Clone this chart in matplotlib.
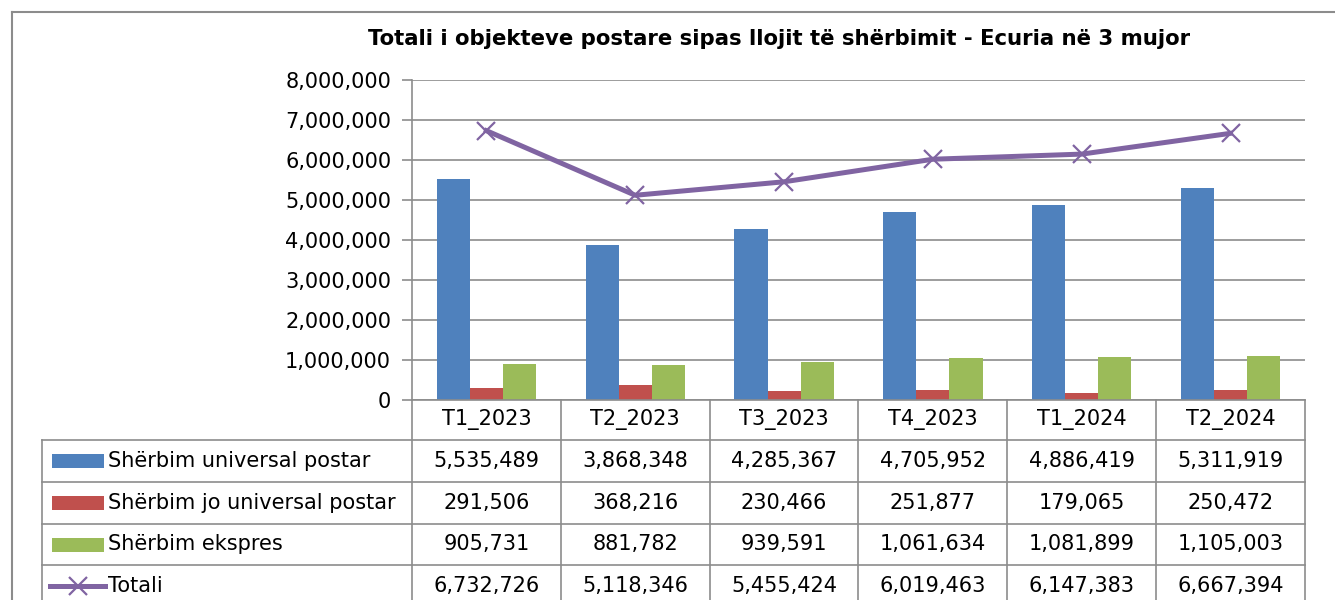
import matplotlib
matplotlib.use("Agg")
import matplotlib.pyplot as plt
import numpy as np
from matplotlib.lines import Line2D
from matplotlib.patches import Rectangle
from matplotlib.transforms import blended_transform_factory

# data
periods = ["T1_2023", "T2_2023", "T3_2023", "T4_2023", "T1_2024", "T2_2024"]
universal = [5535489, 3868348, 4285367, 4705952, 4886419, 5311919]
jo_universal = [291506, 368216, 230466, 251877, 179065, 250472]
ekspres = [905731, 881782, 939591, 1061634, 1081899, 1105003]
totali = [6732726, 5118346, 5455424, 6019463, 6147383, 6667394]
series_names = ["Shërbim universal postar", "Shërbim jo universal postar",
                "Shërbim ekspres", "Totali"]
y_ticks = [0, 1000000, 2000000, 3000000, 4000000, 5000000, 6000000, 7000000, 8000000]
title = "Totali i objekteve postare sipas llojit të shërbimit - Ecuria në 3 mujor"

BLUE, RED, GREEN, PURPLE = "#4F81BD", "#C0504D", "#9BBB59", "#8064A2"
GRID = "#8C8C8C"
FS = 15

plt.rcParams['font.family'] = ['DejaVu Sans']

W, H = 1335, 600
fig = plt.figure(figsize=(W / 100, H / 100), dpi=100)

def fx(px):
    return px / W

def fy(py):
    return 1 - py / H

# plot area in pixel coords of the reference
L, R, T, B = 412, 1305, 80, 400
ax = fig.add_axes([fx(L), fy(B), fx(R - L), (B - T) / H])

x = np.arange(len(periods))
bw = 1 / 4.5
ax.bar(x - bw, universal, bw, color=BLUE, zorder=2)
ax.bar(x, jo_universal, bw, color=RED, zorder=2)
ax.bar(x + bw, ekspres, bw, color=GREEN, zorder=2)
ax.plot(x, totali, color=PURPLE, lw=3.6, marker="x", ms=13, mew=1.6, zorder=3,
        solid_joinstyle="round")

ax.set_xlim(-0.5, len(periods) - 0.5)
ax.set_ylim(0, 8000000)
ax.set_yticks(y_ticks)
ax.set_yticklabels([f"{v:,}" for v in y_ticks], fontsize=FS)
ax.set_xticks([])
ax.grid(axis="y", color=GRID, lw=1.2, zorder=0)
for s in ["top", "right", "bottom"]:
    ax.spines[s].set_visible(False)
ax.spines["left"].set_color(GRID)
ax.spines["left"].set_linewidth(1.2)
ax.tick_params(axis="y", length=7, width=1.2, color=GRID, pad=8)

fig.text(fx(779), fy(39), title, ha="center", va="center",
         fontsize=15.3, fontweight="bold")

# outer chart frame
fig.add_artist(Line2D([fx(12), fx(12)], [fy(12), 0], color="#8C8C8C", lw=1.5))
fig.add_artist(Line2D([fx(12), 1], [fy(12), fy(12)], color="#8C8C8C", lw=1.5))

# data table under the plot
row_edges = [400, 440, 482, 524, 565, 607]
tbl_left = 42
col_tr = blended_transform_factory(ax.transData, fig.transFigure)
line_kw = dict(color=GRID, lw=1.2)

# horizontal lines
fig.add_artist(Line2D([fx(L), fx(R)], [fy(400), fy(400)], **line_kw))
for yy in row_edges[1:]:
    fig.add_artist(Line2D([fx(tbl_left), fx(R)], [fy(yy), fy(yy)], **line_kw))
# vertical lines
fig.add_artist(Line2D([fx(tbl_left), fx(tbl_left)], [fy(440), fy(607)], **line_kw))
for k in range(len(periods) + 1):
    ax.add_line(Line2D([k - 0.5, k - 0.5], [fy(400), fy(607)], transform=col_tr,
                       clip_on=False, **line_kw))

# header and values
rows = [universal, jo_universal, ekspres, totali]
for i, p in enumerate(periods):
    ax.text(i, fy((row_edges[0] + row_edges[1]) / 2), p, transform=col_tr,
            ha="center", va="center", fontsize=FS)
    for r, vals in enumerate(rows):
        ymid = (row_edges[r + 1] + row_edges[r + 2]) / 2
        ax.text(i, fy(ymid), f"{vals[i]:,}", transform=col_tr,
                ha="center", va="center", fontsize=FS)

# legend keys in the table
colors = [BLUE, RED, GREEN]
for r, name in enumerate(series_names):
    ymid = (row_edges[r + 1] + row_edges[r + 2]) / 2
    if r < 3:
        fig.add_artist(Rectangle((fx(52), fy(ymid + 7)), fx(52), 14 / H,
                                 color=colors[r], lw=0))
    else:
        fig.add_artist(Line2D([fx(50), fx(105)], [fy(ymid), fy(ymid)],
                              color=PURPLE, lw=3.6))
        fig.add_artist(Line2D([fx(78)], [fy(ymid)], color=PURPLE, marker="x",
                              ms=13, mew=1.6))
    fig.text(fx(108), fy(ymid), name, ha="left", va="center", fontsize=FS)

fig.savefig("out.png", dpi=100)
